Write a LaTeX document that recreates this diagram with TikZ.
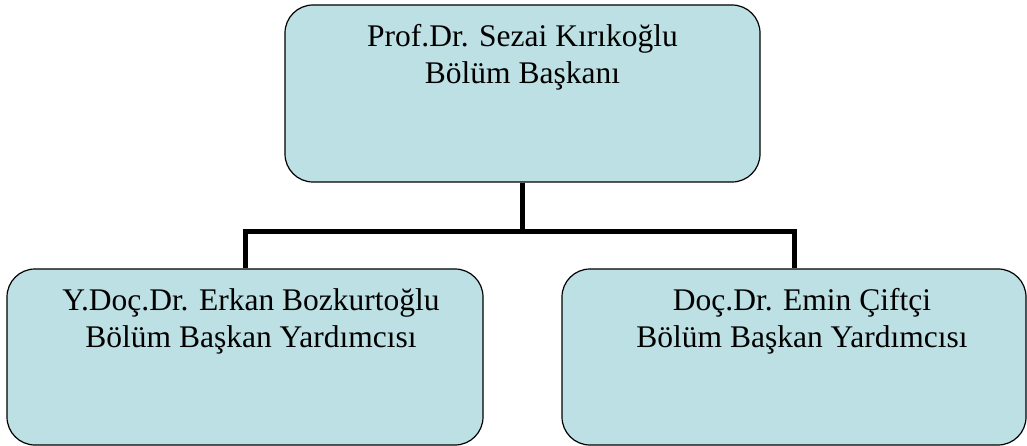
\documentclass[tikz,border=0pt]{standalone}
\usepackage{fontspec}
\setmainfont{Liberation Serif}
\definecolor{boxblue}{RGB}{188,224,227}
\tikzset{
  unit/.style={draw=black, line width=1.2pt, fill=boxblue, rounded corners=28pt, inner sep=0pt},
  caption/.style={anchor=north, inner sep=0pt, align=center, font=\fontsize{31.5}{37}\selectfont},
  link/.style={line width=5pt}
}
\begin{document}
\begin{tikzpicture}[x=1pt,y=-1pt]
      \useasboundingbox (0,0) rectangle (1027,446);
      \draw
        (522.5,93.5) node[unit, minimum width=475pt, minimum height=177pt] (head){}
        (245,357) node[unit, minimum width=476pt, minimum height=176pt] (vice1){}
        (794,357) node[unit, minimum width=464pt, minimum height=176pt] (vice2){};
      \node[caption] (headtext) at ([yshift=-20pt]head.north) {Prof.Dr. Sezai Kırıkoğlu\\Bölüm Başkanı};
      \node[caption] (vice1text) at ([xshift=6pt,yshift=-20pt]vice1.north) {Y.Doç.Dr. Erkan Bozkurtoğlu\\Bölüm Başkan Yardımcısı};
      \node[caption] (vice2text) at ([xshift=8pt,yshift=-20pt]vice2.north) {Doç.Dr. Emin Çiftçi\\Bölüm Başkan Yardımcısı};
      \coordinate (fork) at (522.5,232);
      \begin{scope}[link]
        \draw (head.south) -- (fork);
        \draw (vice1.north) |- (fork) -| (vice2.north);
      \end{scope}
    \end{tikzpicture}
\end{document}
